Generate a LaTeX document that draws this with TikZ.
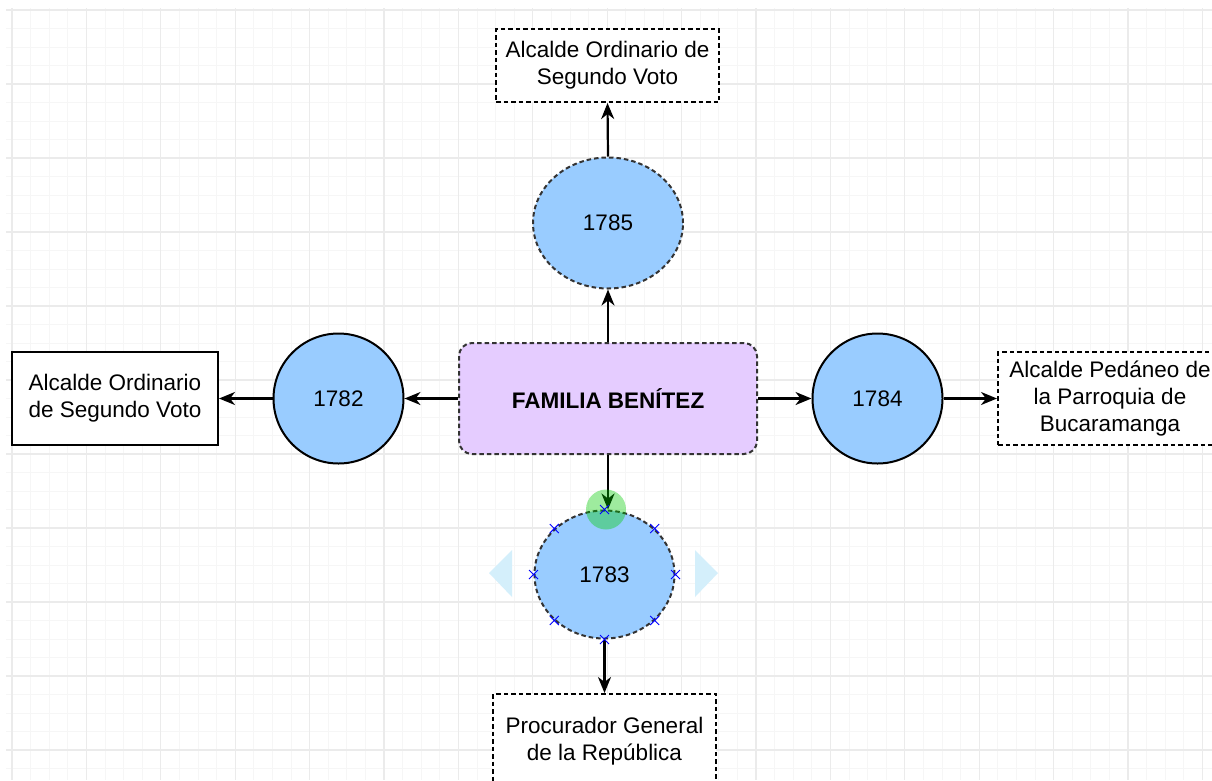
\documentclass[tikz,border=0pt]{standalone}
\usepackage{fontspec}
\setmainfont{Liberation Sans}
\usetikzlibrary{arrows.meta,shapes.geometric,shapes.misc}

\definecolor{nodeblue}{HTML}{99CCFF}
\definecolor{famlilac}{HTML}{E5CCFF}
\definecolor{gridmajor}{HTML}{EBEBEB}
\definecolor{gridminor}{HTML}{F6F6F6}
\definecolor{hintblue}{HTML}{D4EFFB}
\definecolor{handlegreen}{HTML}{00CC00}

\tikzset{
  every node/.style={font=\fontsize{22.5}{27}\selectfont, text=black},
  dashline/.style={dash pattern=on 4.5pt off 3pt},
  yearsolid/.style={circle, draw=black, line width=2pt, fill=nodeblue,
    minimum size=130pt, inner sep=0pt},
  yeardash/.style={ellipse, draw=black!80, line width=2pt, dashline,
    fill=nodeblue, inner sep=0pt},
  rolebox/.style={rectangle, draw=black, line width=2pt, fill=white,
    align=center, inner sep=0pt},
  familybox/.style={rectangle, rounded corners=13pt, draw=black!80, dashline,
    line width=2pt, fill=famlilac, inner sep=0pt},
  link/.style={line width=2.2pt, -{Stealth[length=16pt,width=13pt,inset=5pt]}},
  handle/.style={circle, fill=handlegreen, fill opacity=0.38, draw=none,
    minimum size=40pt, inner sep=0pt},
  pointmark/.style={cross out, draw=blue, line width=1pt, minimum size=8pt,
    inner sep=0pt},
  gridminorline/.style={gridminor, line width=1pt},
  gridmajorline/.style={gridmajor, line width=1.2pt},
}

\begin{document}
\begin{tikzpicture}[x=1pt, y=-1pt]
  \useasboundingbox (0,0) rectangle (1212,780);
  \clip (0,0) rectangle (1212,780);
  \fill[white] (0,0) rectangle (1212,780);

  % background grid
  \foreach \k in {0,...,64} {
    \draw[gridminorline] ({12+18.6*\k},8) -- ({12+18.6*\k},780);
  }
  \foreach \k in {0,...,41} {
    \draw[gridminorline] (6,{10+18.5*\k}) -- (1212,{10+18.5*\k});
  }
  \foreach \k in {0,...,16} {
    \draw[gridmajorline] ({12+74.4*\k},8) -- ({12+74.4*\k},780);
  }
  \foreach \k in {0,...,10} {
    \draw[gridmajorline] (6,{10+74*\k}) -- (1212,{10+74*\k});
  }

  % central family node
  \node[familybox, minimum width=298pt, minimum height=111pt] (fam) at (608,398.5)
    {\bfseries FAMILIA BENÍTEZ};

  % years
  \node[yeardash, minimum width=150pt, minimum height=131pt] (y1785) at (608,223) {1785};
  \node[yearsolid] (y1782) at (338.5,398.5) {1782};
  \node[yearsolid] (y1784) at (877.5,398.5) {1784};
  \node[yeardash, minimum width=140pt, minimum height=128pt] (y1783) at (604.5,574.5) {1783};

  % offices
  \node[rolebox, dashline, minimum width=223pt, minimum height=73pt] (cargoTop) at (607.5,65.5)
    {Alcalde Ordinario de\\Segundo Voto};
  \node[rolebox, minimum width=206pt, minimum height=93pt] (cargoLeft) at (115,398.5)
    {Alcalde Ordinario\\de Segundo Voto};
  \node[rolebox, dashline, minimum width=224pt, minimum height=93pt] (cargoRight) at (1110,398.5)
    {Alcalde Pedáneo de\\la Parroquia de\\Bucaramanga};
  \node[rolebox, dashline, minimum width=223pt, minimum height=94pt] (cargoBottom) at (604.5,741)
    {Procurador General\\de la República};

  % connectors
  \draw[link] (fam.north) -- (y1785.south);
  \draw[link] (y1785.north) -- (cargoTop.south);
  \draw[link] (fam.west) -- (y1782.east);
  \draw[link] (y1782.west) -- (cargoLeft.east);
  \draw[link] (fam.east) -- (y1784.west);
  \draw[link] (y1784.east) -- (cargoRight.west);
  \draw[link] (fam.south) -- (fam.south |- y1783.north);
  \draw[link] (y1783.south) -- (cargoBottom.north);

  % selection handles on 1783
  \fill[hintblue] (489,573) -- (512,550) -- (512,597) -- cycle;
  \fill[hintblue] (718,573) -- (695,550) -- (695,597) -- cycle;
  \node[handle] (hover) at ([xshift=1.5pt]y1783.north) {};
  \foreach \a in {north,north east,east,south east,south,south west,west,north west} {
    \node[pointmark] at (y1783.\a) {};
  }
\end{tikzpicture}
\end{document}
